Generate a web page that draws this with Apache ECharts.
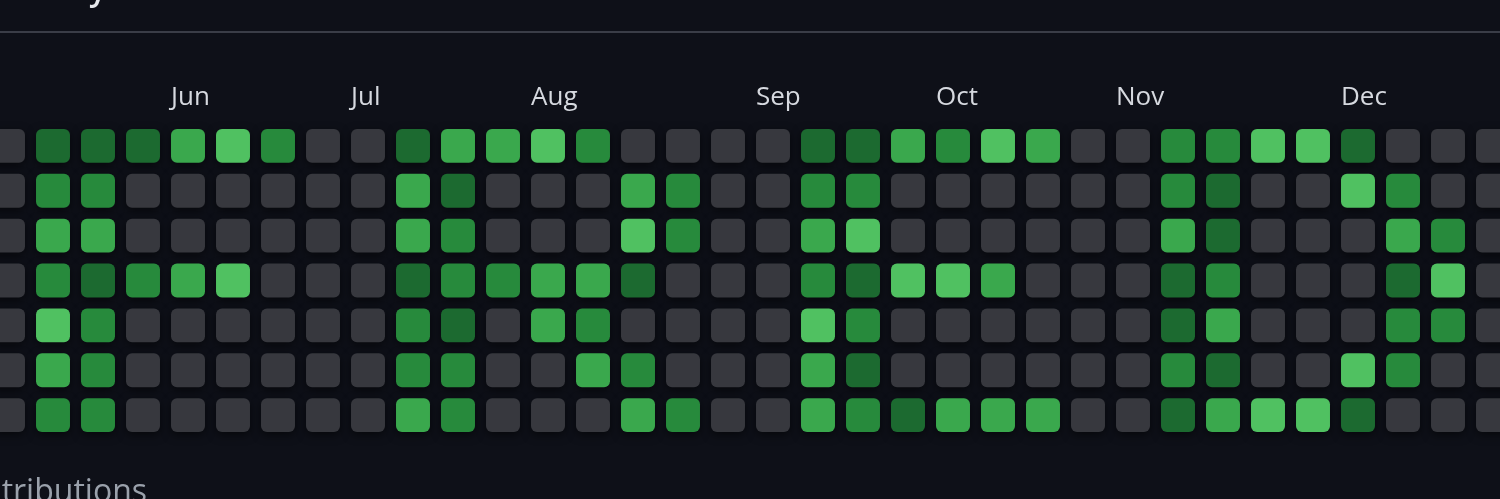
<!DOCTYPE html>
<html>
<head>
<meta charset="utf-8">
<script src="https://cdn.jsdelivr.net/npm/echarts@6/dist/echarts.min.js"></script>
<style>
  html, body { margin: 0; padding: 0; background: #0e1018; overflow: hidden; }
  #chart { width: 1500px; height: 499px; }
</style>
</head>
<body>
<div id="chart"></div>
<script>
// Week columns (34 visible) and their month tick labels
const monthLabels = ['', '', '', '', 'Jun', '', '', '', 'Jul', '', '', '', 'Aug', '', '', '', '', 'Sep', '', '', '', 'Oct', '', '', '', 'Nov', '', '', '', '', 'Dec', '', '', ''];
const dayRows = ['r0', 'r1', 'r2', 'r3', 'r4', 'r5', 'r6'];

// Contribution level (0-4) per day row, one value per week column
const row0 = [0,1,1,1,3,4,2,0,0,1,3,3,4,2,0,0,0,0,1,1,3,2,4,3,0,0,2,2,4,4,1,0,0,0];
const row1 = [0,2,2,0,0,0,0,0,0,3,1,0,0,0,3,2,0,0,2,2,0,0,0,0,0,0,2,1,0,0,4,2,0,0];
const row2 = [0,3,3,0,0,0,0,0,0,3,2,0,0,0,4,2,0,0,3,4,0,0,0,0,0,0,3,1,0,0,0,3,2,0];
const row3 = [0,2,1,2,3,4,0,0,0,1,2,2,3,3,1,0,0,0,2,1,4,4,3,0,0,0,1,2,0,0,0,1,4,0];
const row4 = [0,4,2,0,0,0,0,0,0,2,1,0,3,2,0,0,0,0,4,2,0,0,0,0,0,0,1,3,0,0,0,2,2,0];
const row5 = [0,3,2,0,0,0,0,0,0,2,2,0,0,3,2,0,0,0,3,1,0,0,0,0,0,0,2,1,0,0,4,2,0,0];
const row6 = [0,2,2,0,0,0,0,0,0,3,2,0,0,0,3,2,0,0,3,2,1,3,3,3,0,0,1,3,4,4,1,0,0,0];

const levelColors = ['#37383e', '#1c6a30', '#278a3c', '#3aa84d', '#50c161'];

const rows = [row0, row1, row2, row3, row4, row5, row6];
const data = [];
rows.forEach((r, ri) => r.forEach((v, ci) => data.push([ci, ri, v])));

const chart = echarts.init(document.getElementById('chart'), null, { renderer: 'canvas' });
chart.setOption({
  backgroundColor: '#0e1018',
  animation: false,
  grid: { left: -14.5, top: 123.5, width: 1530, height: 314, containLabel: false, outerBoundsMode: 'none' },
  xAxis: {
    type: 'category',
    position: 'top',
    data: monthLabels,
    axisLine: { show: false },
    axisTick: { show: false },
    splitLine: { show: false },
    axisLabel: {
      interval: 0,
      margin: 11,
      align: 'center',
      formatter: v => v ? '{m|' + v + '}' : '',
      rich: {
        m: { width: 34, align: 'left', color: '#d6d9df', fontSize: 26, fontFamily: 'Open Sans', lineHeight: 30 }
      }
    }
  },
  yAxis: {
    type: 'category',
    data: dayRows,
    inverse: true,
    show: false
  },
  graphic: [
    { type: 'line', shape: { x1: 0, y1: 32, x2: 1500, y2: 32 }, style: { stroke: '#3a3d47', lineWidth: 2 } },
    { type: 'text', x: -8, y: -9, style: { text: 'Activity', fill: '#e6e8ec', font: '600 32px "Open Sans"', verticalAlign: 'middle' } },
    { type: 'text', x: 147, y: 493, style: { text: 'Contributions', fill: '#9aa1ab', font: '32px "Open Sans"', align: 'right', verticalAlign: 'middle' } }
  ],
  series: [{
    type: 'custom',
    data: data,
    encode: { x: 0, y: 1 },
    renderItem: function (params, api) {
      const p = api.coord([api.value(0), api.value(1)]);
      const s = api.size([1, 1]);
      const w = s[0] * 0.755, h = s[1] * 0.755;
      return {
        type: 'rect',
        shape: { x: p[0] - w / 2, y: p[1] - h / 2, width: w, height: h, r: 6 },
        style: {
          fill: levelColors[api.value(2)],
          shadowBlur: 10,
          shadowColor: 'rgba(0,0,0,0.55)',
          shadowOffsetY: 3
        }
      };
    }
  }]
});
</script>
</body>
</html>
